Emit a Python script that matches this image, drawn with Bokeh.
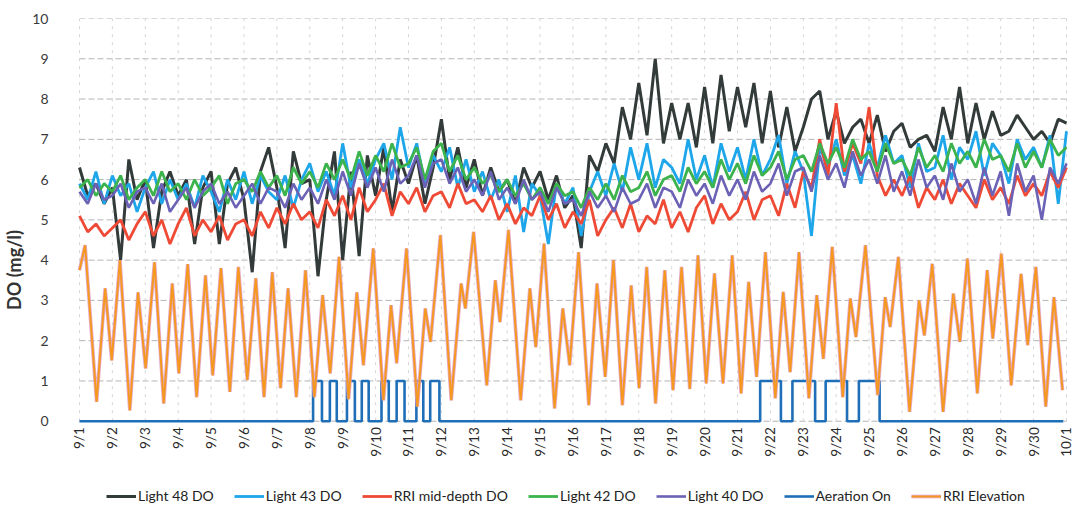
import math
import numpy as np
from bokeh.plotting import figure
from bokeh.models import Range1d, FixedTicker, Legend, LegendItem
from bokeh.embed import file_html
from bokeh.resources import INLINE

FONT = "Lato"

# Day labels for the x axis (day 0 = 9/1)
day_ticks = list(range(0, 31))
day_labels = ["9/1", "9/2", "9/3", "9/4", "9/5", "9/6", "9/7", "9/8", "9/9", "9/10",
              "9/11", "9/12", "9/13", "9/14", "9/15", "9/16", "9/17", "9/18", "9/19", "9/20",
              "9/21", "9/22", "9/23", "9/24", "9/25", "9/26", "9/27", "9/28", "9/29", "9/30",
              "10/1"]
do_ticks = list(range(0, 11))

# Dissolved oxygen records, one value every 6 hours (4 per day), mg/l
light48_do = [
    6.3, 5.6, 5.9, 5.4,  5.8, 4.0, 6.5, 5.5,  6.0, 4.3, 5.7, 6.2,  5.6, 6.0, 4.4, 5.8,
    6.2, 4.4, 5.9, 6.3,  5.5, 3.7, 6.2, 6.8,  5.8, 4.3, 6.7, 5.9,  6.0, 3.6, 5.5, 6.7,
    4.0, 6.2, 4.1, 6.6,  5.6, 6.8, 5.2, 6.5,  5.9, 6.6, 5.4, 6.3,  7.5, 6.0, 6.8, 5.8,
    6.5, 5.6, 6.3, 5.7,  6.0, 5.4, 6.3, 5.8,  6.2, 5.5, 6.1, 5.3,  5.6, 4.3, 6.6, 6.2,
    6.9, 6.4, 7.8, 7.0,  8.4, 7.1, 9.0, 6.9,  7.9, 7.0, 7.9, 6.8,  8.3, 6.9, 8.6, 7.2,
    8.3, 7.3, 8.4, 6.9,  8.2, 6.8, 7.8, 6.7,  7.3, 8.0, 8.2, 7.0,  7.7, 6.9, 7.3, 7.5,
    6.9, 7.6, 6.7, 7.2,  7.4, 6.8, 7.0, 7.1,  6.7, 7.8, 7.0, 8.3,  6.9, 7.9, 7.0, 7.7,
    7.1, 7.2, 7.6, 7.3,  7.0, 7.2, 6.9, 7.5,  7.4]
light43_do = [
    5.9, 5.5, 6.2, 5.4,  6.1, 5.6, 5.9, 5.2,  5.8, 6.2, 5.4, 6.0,  5.5, 5.9, 5.3, 6.1,
    5.7, 5.2, 6.0, 5.5,  6.2, 5.4, 6.1, 5.7,  5.5, 6.1, 5.3, 6.0,  6.4, 5.7, 6.2, 5.6,
    6.9, 5.8, 6.5, 5.9,  6.5, 6.9, 6.0, 7.3,  6.3, 6.9, 5.9, 6.6,  6.2, 6.8, 5.8, 6.5,
    5.7, 6.2, 5.5, 6.0,  5.2, 6.1, 4.7, 5.9,  5.6, 4.4, 5.9, 5.4,  5.8, 4.6, 5.7, 6.2,
    5.6, 6.4, 5.7, 6.8,  6.0, 6.9, 5.8, 6.5,  6.3, 5.9, 7.0, 6.0,  6.6, 5.8, 6.9, 6.2,
    6.8, 6.0, 7.0, 6.1,  6.5, 7.1, 5.9, 6.7,  6.2, 4.6, 6.8, 6.3,  7.0, 6.1, 6.6, 5.9,
    6.9, 6.3, 7.1, 6.4,  6.6, 5.8, 6.9, 6.2,  6.3, 7.1, 6.0, 6.8,  6.5, 7.2, 6.1, 6.9,
    6.6, 5.9, 7.0, 6.5,  6.8, 6.3, 7.1, 5.4,  7.2]
rri_mid_do = [
    5.1, 4.7, 4.9, 4.6,  4.8, 5.0, 4.5, 4.9,  5.2, 4.6, 5.0, 4.4,  4.9, 5.3, 4.6, 5.0,
    4.7, 5.1, 4.5, 4.9,  5.0, 4.6, 5.2, 4.8,  5.3, 4.9, 5.4, 5.0,  5.2, 4.8, 5.5, 5.1,
    5.6, 5.0, 5.8, 5.2,  5.5, 5.9, 5.1, 5.7,  5.4, 5.8, 5.2, 5.6,  5.7, 5.3, 5.9, 5.4,
    5.5, 5.2, 5.6, 5.0,  5.4, 4.9, 5.3, 5.1,  5.6, 5.0, 5.4, 4.8,  5.2, 4.9, 5.5, 4.6,
    5.0, 5.3, 4.8, 5.4,  4.7, 5.1, 4.9, 5.5,  4.8, 5.2, 4.7, 5.3,  5.6, 4.9, 5.4, 5.0,
    5.2, 5.7, 5.0, 5.5,  5.6, 5.1, 5.9, 5.3,  6.2, 5.8, 7.0, 6.1,  7.9, 6.2, 6.9, 6.4,
    7.8, 6.1, 5.6, 6.0,  5.6, 6.1, 5.3, 5.8,  5.5, 6.0, 5.4, 5.9,  5.6, 5.3, 6.0, 5.5,
    5.8, 5.4, 6.1, 5.6,  5.9, 5.6, 6.2, 5.8,  6.3]
light42_do = [
    5.8, 6.0, 5.6, 5.9,  5.7, 6.1, 5.5, 5.8,  6.0, 5.6, 6.2, 5.7,  5.9, 5.5, 6.0, 5.6,
    5.8, 6.1, 5.4, 5.9,  6.0, 5.7, 6.2, 5.8,  6.1, 5.6, 6.3, 5.9,  6.2, 5.8, 6.4, 6.0,
    6.5, 6.0, 6.7, 6.1,  6.6, 6.2, 6.9, 6.3,  6.4, 6.8, 6.0, 6.7,  6.9, 6.2, 6.6, 6.0,
    6.3, 5.9, 6.1, 5.7,  6.0, 5.6, 5.9, 5.5,  5.8, 5.4, 5.9, 5.6,  5.7, 5.3, 5.8, 5.5,
    5.9, 5.5, 6.1, 5.7,  5.8, 6.2, 5.6, 6.0,  6.1, 5.7, 6.3, 5.9,  6.2, 5.8, 6.5, 6.0,
    6.4, 5.9, 6.6, 6.1,  6.3, 6.7, 6.0, 6.5,  6.6, 6.2, 6.9, 6.4,  6.8, 6.3, 7.0, 6.5,
    6.7, 6.2, 6.9, 6.4,  6.5, 6.1, 6.8, 6.3,  6.6, 6.2, 6.9, 6.4,  6.7, 6.3, 7.0, 6.5,
    6.6, 6.2, 6.9, 6.3,  6.7, 6.3, 7.0, 6.6,  6.8]
light40_do = [
    5.7, 5.4, 5.9, 5.5,  5.6, 5.9, 5.3, 5.7,  5.8, 5.4, 5.9, 5.2,  5.5, 5.8, 5.3, 5.7,
    5.9, 5.4, 5.7, 5.3,  5.6, 5.9, 5.4, 5.8,  5.7, 5.3, 5.9, 5.5,  5.8, 5.4, 6.0, 5.5,
    6.2, 5.6, 6.4, 5.8,  6.3, 5.7, 6.5, 5.9,  6.1, 6.6, 5.8, 6.4,  6.5, 5.9, 6.3, 5.7,
    6.0, 5.6, 6.2, 5.5,  5.8, 5.4, 6.0, 5.5,  5.7, 5.2, 5.8, 5.4,  5.5, 5.1, 5.7, 5.3,
    5.6, 5.2, 5.8, 5.4,  5.5, 5.9, 5.3, 5.8,  5.7, 5.3, 6.0, 5.6,  5.9, 5.4, 6.1, 5.6,
    6.0, 5.5, 6.2, 5.7,  5.9, 6.4, 5.6, 6.2,  6.3, 5.7, 6.6, 6.0,  6.4, 5.8, 6.7, 6.1,
    6.5, 5.9, 6.6, 5.7,  6.2, 5.6, 6.5, 5.8,  6.1, 5.5, 6.4, 5.7,  6.0, 5.4, 6.3, 5.6,
    6.2, 5.1, 6.4, 5.7,  6.1, 5.0, 6.3, 5.9,  6.4]
t_do = np.arange(len(light48_do)) * 0.25

# Aeration on/off switching times (days) and state after each switch
aer_t = [0.0, 7.10, 7.37, 7.61, 7.82, 8.13, 8.37, 8.58, 8.79, 9.18, 9.40, 9.64, 9.88,
         10.24, 10.45, 10.66, 10.94, 20.69, 21.32, 21.67, 22.36, 22.68, 23.33, 23.69,
         24.32, 29.9]
aer_on = [0, 1, 0, 1, 0, 1, 0, 1, 0, 1, 0, 1, 0,
          1, 0, 1, 0, 1, 0, 1, 0, 1, 0, 1,
          0, 0]

# RRI water surface elevation: successive highs and lows (day, value)
elev_t = [0.0, 0.17, 0.52, 0.78, 0.98, 1.23, 1.53, 1.78, 2.01, 2.28, 2.56, 2.82, 3.02,
          3.29, 3.56, 3.83, 4.05, 4.30, 4.57, 4.83, 5.10, 5.36, 5.61, 5.86, 6.11, 6.34,
          6.59, 6.87, 7.14, 7.39, 7.62, 7.89, 8.18, 8.43, 8.63, 8.93, 9.24, 9.47, 9.64,
          9.94, 10.27, 10.51, 10.67, 10.97, 11.30, 11.60, 11.73, 11.98, 12.38, 12.64,
          12.78, 13.04, 13.41, 13.69, 13.87, 14.12, 14.44, 14.69, 14.90, 15.17, 15.48,
          15.73, 15.98, 16.23, 16.50, 16.77, 17.01, 17.24, 17.51, 17.79, 18.04, 18.30,
          18.55, 18.80, 19.05, 19.30, 19.56, 19.84, 20.11, 20.34, 20.58, 20.85, 21.15,
          21.39, 21.60, 21.87, 22.17, 22.41, 22.61, 22.88, 23.20, 23.43, 23.60, 23.89,
          24.26, 24.49, 24.64, 24.89, 25.23, 25.52, 25.68, 25.92, 26.25, 26.56, 26.76,
          26.99, 27.29, 27.59, 27.76, 28.02, 28.32, 28.62, 28.82, 29.07, 29.37, 29.62,
          29.88]
elev = [3.75, 4.37, 0.48, 3.30, 1.51, 4.00, 0.27, 3.20, 1.31, 3.95, 0.44, 3.42, 1.19,
        3.90, 0.60, 3.62, 1.14, 3.80, 0.73, 3.83, 1.02, 3.55, 0.60, 3.70, 0.82, 3.30,
        0.60, 3.75, 0.60, 3.13, 1.19, 4.08, 0.55, 3.20, 1.39, 4.29, 0.52, 2.88, 1.44,
        4.29, 0.36, 2.80, 1.97, 4.62, 0.52, 3.42, 2.80, 4.70, 0.89, 3.50,
        2.46, 4.75, 0.52, 3.30, 1.84, 4.41, 0.32, 2.80, 1.39, 4.20, 0.40,
        3.42, 1.10, 4.00, 0.40, 3.37, 0.82, 3.83, 0.44, 3.75, 0.77, 3.83,
        0.80, 4.12, 0.94, 3.67, 0.94, 4.12, 0.69, 3.46, 1.10, 4.20, 0.57,
        3.21, 1.22, 4.20, 0.57, 3.13, 1.55, 4.33, 0.60, 3.05, 2.09, 4.37,
        0.65, 3.08, 2.34, 4.08, 0.23, 3.00, 2.13, 3.91, 0.23, 3.17, 1.97,
        4.04, 0.69, 3.75, 2.05, 4.16, 0.89, 3.66, 1.89, 3.83, 0.36, 3.08,
        0.77]

# The frame runs down to the bottom of the page so the date labels and the
# legend can sit under the zero line inside it; a little room is left on both
# sides so the first and last date labels are not cut.
p = figure(frame_width=1007, frame_height=503, output_backend="svg", toolbar_location=None,
           x_range=Range1d(-0.334, 30.274), y_range=Range1d(-2.49, 10),
           min_border_left=66, min_border_right=0, min_border_top=18,
           min_border_bottom=0)
p.outline_line_color = None
p.background_fill_color = "white"
p.border_fill_color = "white"

# horizontal grid at whole mg/l, limited to the date span
p.ygrid.ticker = FixedTicker(ticks=do_ticks)
p.ygrid.visible = False
p.xgrid.visible = False
p.segment(x0=[0] * len(do_ticks), y0=do_ticks, x1=[30] * len(do_ticks), y1=do_ticks,
          line_color="#b4b4b4", line_dash="6 3", line_width=1)

# day grid lines, limited to the 0-10 band
p.segment(x0=day_ticks, y0=[0] * len(day_ticks), x1=day_ticks, y1=[10] * len(day_ticks),
          line_color="#d6d6d6", line_dash="3 5", line_width=1)

# axes
p.yaxis.ticker = FixedTicker(ticks=do_ticks)
p.yaxis.axis_label = "DO (mg/l)"
p.yaxis.axis_label_text_font = FONT
p.yaxis.axis_label_text_font_style = "bold"
p.yaxis.axis_label_text_font_size = "18px"
p.yaxis.axis_label_text_color = "#333333"
p.yaxis.axis_label_standoff = 4
p.yaxis.major_label_text_font = FONT
p.yaxis.major_label_text_font_size = "14px"
p.yaxis.major_label_text_color = "#3a3a3a"
p.yaxis.major_label_standoff = 20
p.yaxis.axis_line_color = None
p.yaxis.major_tick_line_color = None
p.yaxis.minor_tick_line_color = None
p.yaxis.major_tick_out = 0
p.yaxis.minor_tick_out = 0

p.xaxis.fixed_location = 0
p.xaxis.ticker = FixedTicker(ticks=day_ticks)
p.xaxis.major_label_overrides = {t: lab for t, lab in zip(day_ticks, day_labels)}
p.xaxis.major_label_orientation = math.pi / 2
p.xaxis.major_label_text_font = FONT
p.xaxis.major_label_text_font_size = "13.5px"
p.xaxis.major_label_text_color = "#2a2a2a"
p.xaxis.major_label_standoff = 6
p.xaxis.axis_line_color = None
p.xaxis.major_tick_line_color = None
p.xaxis.minor_tick_line_color = None
p.xaxis.major_tick_out = 0
p.xaxis.minor_tick_out = 0

# DO series
r48 = p.line(t_do, light48_do, line_color="#323a3a", line_width=3.0)
r43 = p.line(t_do, light43_do, line_color="#1ea6ea", line_width=2.8)
rrm = p.line(t_do, rri_mid_do, line_color="#ef4a36", line_width=2.8)
r42 = p.line(t_do, light42_do, line_color="#3db34d", line_width=2.8)
r40 = p.line(t_do, light40_do, line_color="#6b62b6", line_width=2.6)

# aeration state
raer = p.step(aer_t, aer_on, mode="after", line_color="#1f6fb8", line_width=2.6)

# elevation (orange over a soft pink halo)
rel_halo = p.line(elev_t, elev, line_color="#df9cc6", line_width=3.6, line_alpha=0.85)
rel = p.line(elev_t, elev, line_color="#f5981f", line_width=2.0)

legend = Legend(items=[
    LegendItem(label="Light 48 DO", renderers=[r48]),
    LegendItem(label="Light 43 DO", renderers=[r43]),
    LegendItem(label="RRI mid-depth DO", renderers=[rrm]),
    LegendItem(label="Light 42 DO", renderers=[r42]),
    LegendItem(label="Light 40 DO", renderers=[r40]),
    LegendItem(label="Aeration On", renderers=[raer]),
    LegendItem(label="RRI Elevation", renderers=[rel_halo, rel]),
], orientation="horizontal", location=(38, 17))
legend.label_text_font = FONT
legend.label_text_font_size = "14px"
legend.label_text_color = "#222222"
legend.glyph_width = 30
legend.glyph_height = 16
legend.label_standoff = 2
legend.spacing = 20
legend.padding = 2
legend.margin = 0
legend.border_line_color = None
legend.background_fill_alpha = 0
p.add_layout(legend, "center")

open("out.html", "w").write(file_html(p, INLINE))
